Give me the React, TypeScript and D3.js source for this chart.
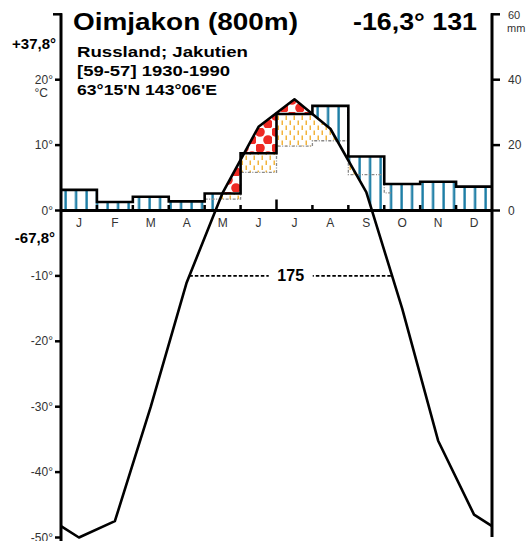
import React from "react";
import * as d3 from "d3";

const months = ["J", "F", "M", "A", "M", "J", "J", "A", "S", "O", "N", "D"];
const temperature = [-50.0, -47.5, -30.0, -11.0, 2.7, 12.8, 17.0, 12.5, 2.8, -15.0, -35.2, -46.5];
const precipitation = [6.3, 2.6, 4.2, 2.8, 5.2, 17.5, 29.5, 32.0, 16.5, 8.1, 8.8, 7.3];
const tempTicks = [20, 10, 0, -10, -20, -30, -40, -50];
const precTicks = [0, 20, 40, 60];
const title = "Oimjakon (800m)";
const summary = "-16,3° 131";
const subtitleLines = ["Russland; Jakutien", "[59-57] 1930-1990", "63°15'N 143°06'E"];
const subtitleWidths = [171, 153, 140];
const absMax = "+37,8°";
const absMin = "-67,8°";
const periodDays = "175";
const periodThreshold = -10;

const W = 531;
const H = 541;
const FONT = "'Liberation Sans', Arial, sans-serif";

const x = d3.scaleLinear().domain([0, 12]).range([61, 492]);
const y = d3.scaleLinear().domain([-50, 30]).range([537.5, 14.3]);
const yP = (mm: number) => y(mm / 2);

function tempAt(t: number): number {
  const pos = [-0.5, ...months.map((_, i) => i + 0.5), 12.5];
  const val = [temperature[11], ...temperature, temperature[0]];
  for (let i = 0; i < pos.length - 1; i++) {
    if (t >= pos[i] && t <= pos[i + 1]) {
      const f = (t - pos[i]) / (pos[i + 1] - pos[i]);
      return val[i] + f * (val[i + 1] - val[i]);
    }
  }
  return val[0];
}

type S = { t: number; m: number; T: number; p2: number; p3: number };
const samples: S[] = [];
months.forEach((_, m) => {
  const N = 60;
  for (let k = 0; k <= N; k++) {
    const t = m + k / N;
    samples.push({ t, m, T: tempAt(t), p2: precipitation[m] / 2, p3: precipitation[m] / 3 });
  }
});

function crossing(target: number): number[] {
  const res: number[] = [];
  for (let i = 0; i < 11; i++) {
    const a = temperature[i], b = temperature[i + 1];
    if ((a - target) * (b - target) < 0) {
      res.push(i + 0.5 + (target - a) / (b - a));
    }
  }
  return res;
}

export default function App() {
  const blueArea = d3
    .area<S>()
    .defined((d) => d.p2 > Math.max(d.T, 0))
    .x((d) => x(d.t))
    .y0((d) => y(Math.max(d.T, 0)))
    .y1((d) => y(d.p2))(samples) || "";
  const redArea = d3
    .area<S>()
    .defined((d) => d.T > d.p2)
    .x((d) => x(d.t))
    .y0((d) => y(d.p2))
    .y1((d) => y(d.T))(samples) || "";
  const yellowArea = d3
    .area<S>()
    .defined((d) => d.T > d.p3)
    .x((d) => x(d.t))
    .y0((d) => y(d.p3))
    .y1((d) => y(Math.min(d.T, d.p2)))(samples) || "";

  const stepPts: [number, number][] = precipitation.map((p, i) => [i, p]);
  stepPts.push([12, precipitation[11]]);
  const stepLine = d3
    .line<[number, number]>()
    .x((d) => x(d[0]))
    .y((d) => yP(d[1]))
    .curve(d3.curveStepAfter)(stepPts) || "";

  const warm = months.map((_, i) => i).filter((i) => temperature[i] > 0);
  const greyPts: [number, number][] = warm.map((i) => [i, precipitation[i] / 3]);
  const last = warm[warm.length - 1];
  greyPts.push([last + 1, precipitation[last + 1] / 3]);
  greyPts.push([last + 1.2, precipitation[last + 1] / 3]);
  const greyLine = d3
    .line<[number, number]>()
    .x((d) => x(d[0]))
    .y((d) => y(d[1]))
    .curve(d3.curveStepAfter)(greyPts) || "";

  const tPts: [number, number][] = [[0, tempAt(0)]];
  temperature.forEach((v, i) => tPts.push([i + 0.5, v]));
  tPts.push([12, tempAt(12)]);
  const tempLine = d3
    .line<[number, number]>()
    .x((d) => x(d[0]))
    .y((d) => y(d[1]))(tPts) || "";

  const cr = crossing(periodThreshold);
  const c0 = x(cr[0]);
  const c1 = x(cr[cr.length - 1]);
  const cm = (c0 + c1) / 2;

  return (
    <div style={{ position: "fixed", left: 0, top: 0 }}>
      <svg width={W} height={H} viewBox={`0 0 ${W} ${H}`} style={{ display: "block", background: "#fff" }}>
        <defs>
          <pattern id="blue" patternUnits="userSpaceOnUse" x={64} y={0} width={10.5} height={10}>
            <rect width={10.5} height={10} fill="#fff" />
            <rect x={0.4} y={0} width={2.4} height={10} fill="#1d7ea6" />
          </pattern>
          <pattern id="red" patternUnits="userSpaceOnUse" x={0} y={0} width={16} height={16}>
            <rect width={16} height={16} fill="#fff" />
            <circle cx={4} cy={4} r={4.8} fill="#ee2a24" />
            <circle cx={12} cy={12} r={4.8} fill="#ee2a24" />
          </pattern>
          <pattern id="yellow" patternUnits="userSpaceOnUse" x={0} y={0} width={8} height={10}>
            <rect width={8} height={10} fill="#fff" />
            <rect x={1.5} y={0.5} width={1.5} height={4.5} fill="#f2b43c" />
            <rect x={5.5} y={5.5} width={1.5} height={4.5} fill="#f2b43c" />
          </pattern>
        </defs>

        <path d={blueArea} fill="url(#blue)" />
        <path d={yellowArea} fill="url(#yellow)" />
        <path d={redArea} fill="url(#red)" />
        <path d={greyLine} fill="none" stroke="#8a8a8a" strokeWidth={1.3} strokeDasharray="3,1.5,1,1.5" />
        <path d={stepLine} fill="none" stroke="#000" strokeWidth={2.6} strokeLinejoin="miter" />

        {/* x axis */}
        <line x1={x(0)} x2={x(12)} y1={y(0)} y2={y(0)} stroke="#000" strokeWidth={3} />
        {d3.range(1, 12).map((i) => (
          <line key={i} x1={x(i)} x2={x(i)} y1={y(0)} y2={y(0) - (i === 6 ? 11 : 5.5)} stroke="#000" strokeWidth={2.5} />
        ))}
        {months.map((m, i) => (
          <text key={i} x={x(i + 0.5)} y={227} textAnchor="middle" fontFamily={FONT} fontSize={12} fill="#333">
            {m}
          </text>
        ))}

        {/* left axis */}
        <line x1={x(0)} x2={x(0)} y1={y(30) - 1} y2={H} stroke="#000" strokeWidth={3} />
        <line x1={x(0) - 8} x2={x(0) + 1} y1={y(30)} y2={y(30)} stroke="#000" strokeWidth={2.5} />
        {tempTicks.map((t) => (
          <g key={t}>
            <line x1={x(0) - 6} x2={x(0)} y1={y(t)} y2={y(t)} stroke="#000" strokeWidth={2.5} />
            <text x={53} y={y(t) + 4} textAnchor="end" fontFamily={FONT} fontSize={12} fill="#333">
              {`${t}°`}
            </text>
          </g>
        ))}
        <text x={48} y={97} textAnchor="end" fontFamily={FONT} fontSize={12} fill="#333">
          °C
        </text>
        <text x={56} y={49} textAnchor="end" fontFamily={FONT} fontSize={15} fontWeight="bold" fill="#000">
          {absMax}
        </text>
        <text x={55} y={243} textAnchor="end" fontFamily={FONT} fontSize={15} fontWeight="bold" fill="#000">
          {absMin}
        </text>

        {/* right axis */}
        <line x1={x(12)} x2={x(12)} y1={y(30) - 1} y2={537} stroke="#000" strokeWidth={3} />
        {precTicks.map((p) => (
          <g key={p}>
            <line x1={x(12) - 1} x2={x(12) + 8} y1={yP(p)} y2={yP(p)} stroke="#000" strokeWidth={2.5} />
            <text
              x={508}
              y={p === 60 ? 18.5 : yP(p) + 4}
              fontFamily={FONT}
              fontSize={p === 60 ? 11 : 12}
              fill="#333"
            >
              {p}
            </text>
          </g>
        ))}
        <text x={507} y={31.5} fontFamily={FONT} fontSize={11} fill="#333">
          mm
        </text>

        {/* temperature curve */}
        <path d={tempLine} fill="none" stroke="#000" strokeWidth={2.6} strokeLinejoin="round" />

        {/* period line */}
        <line x1={c0} x2={c1} y1={y(periodThreshold)} y2={y(periodThreshold)} stroke="#000" strokeWidth={1.6} strokeDasharray="3.5,2" />
        <rect x={cm - 22} y={y(periodThreshold) - 9} width={44} height={18} fill="#fff" />
        <text x={cm} y={y(periodThreshold) + 5.5} textAnchor="middle" fontFamily={FONT} fontSize={16} fontWeight="bold">
          {periodDays}
        </text>

        {/* titles */}
        <text x={73} y={30} fontFamily={FONT} fontSize={23} fontWeight="bold" fill="#000" textLength={225} lengthAdjust="spacingAndGlyphs">
          {title}
        </text>
        <text x={353} y={30} fontFamily={FONT} fontSize={23} fontWeight="bold" fill="#000" textLength={124} lengthAdjust="spacingAndGlyphs">
          {summary}
        </text>
        {subtitleLines.map((s, i) => (
          <text
            key={i}
            x={77}
            y={57 + i * 19}
            fontFamily={FONT}
            fontSize={15}
            fontWeight="bold"
            fill="#000"
            textLength={subtitleWidths[i]}
            lengthAdjust="spacingAndGlyphs"
          >
            {s}
          </text>
        ))}
      </svg>
    </div>
  );
}
